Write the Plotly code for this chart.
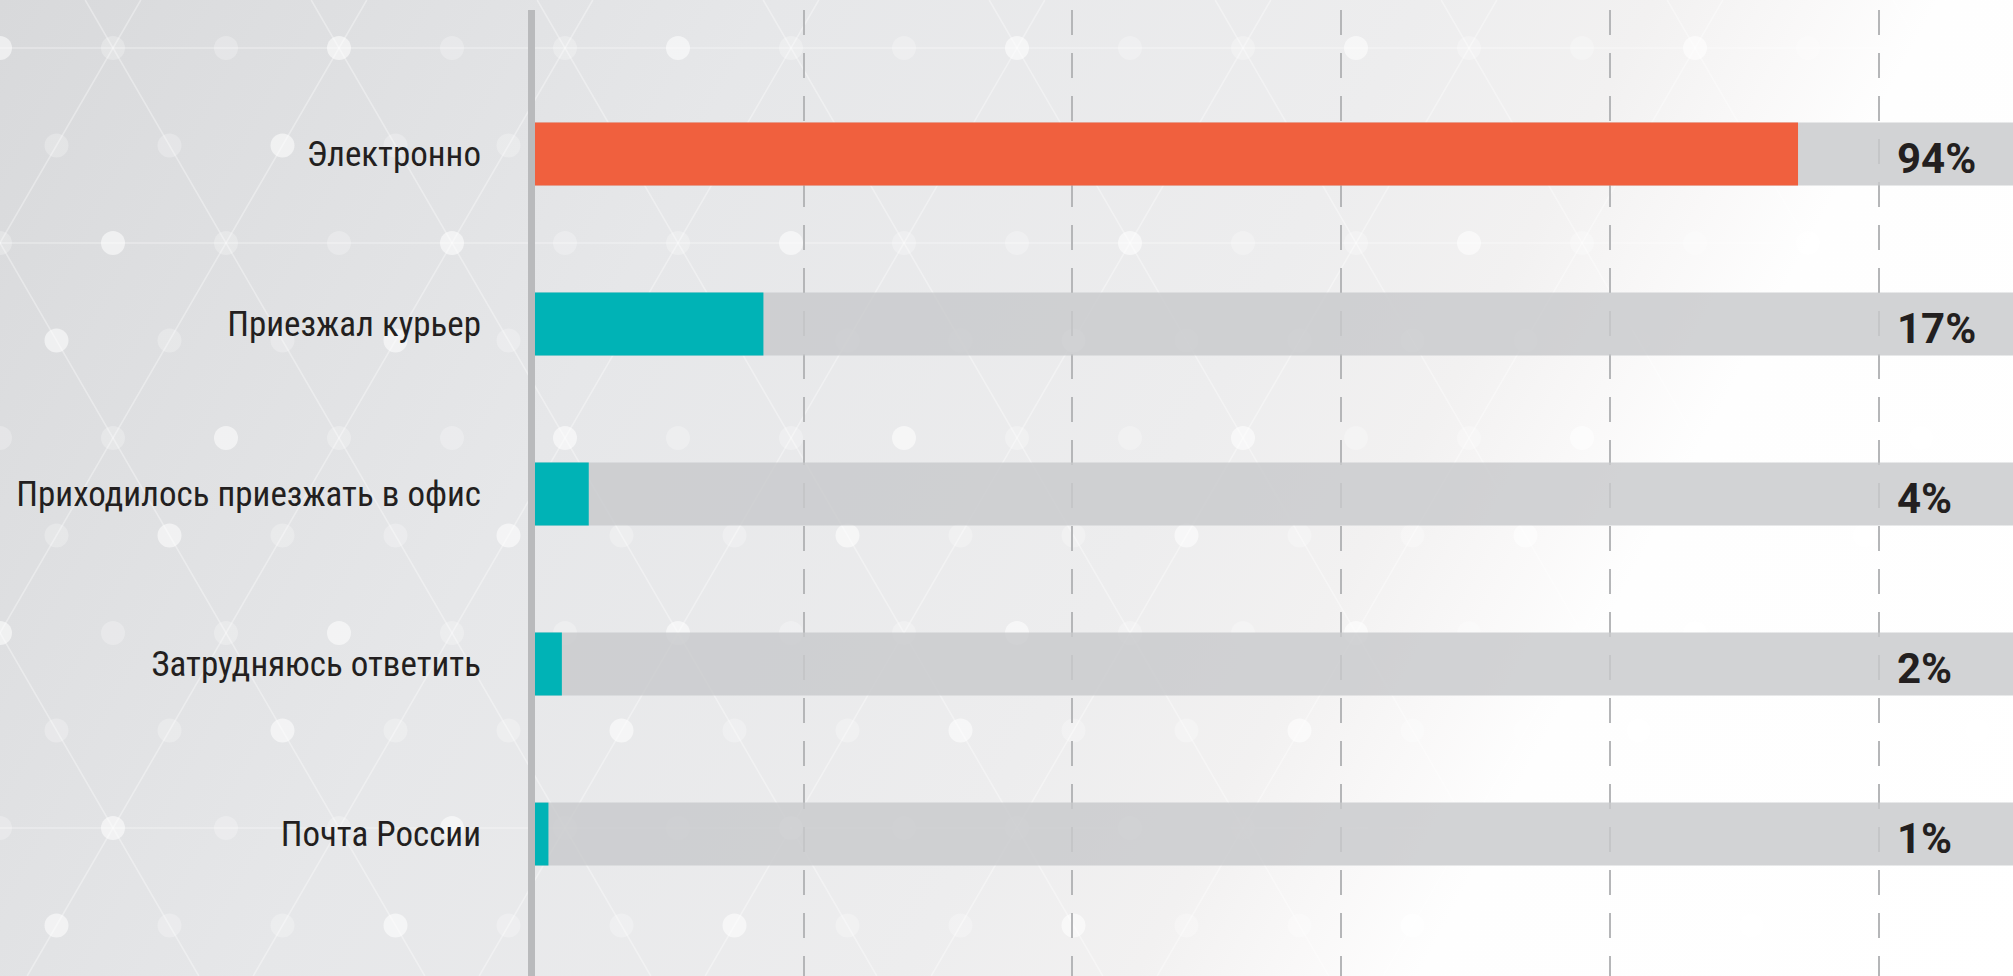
import base64
import plotly.graph_objects as go

# ---------------- data ----------------
categories = [
    "Электронно",
    "Приезжал курьер",
    "Приходилось приезжать в офис",
    "Затрудняюсь ответить",
    "Почта России",
]
values = [94, 17, 4, 2, 1]
value_labels = ["94%", "17%", "4%", "2%", "1%"]
grid_ticks = [20, 40, 60, 80, 100]
x_max = 110
bar_colors = ["#f0603e", "#00b3b6", "#00b3b6", "#00b3b6", "#00b3b6"]

W, H = 2013, 976
ML, MT = 535, 10


# ---------------- decorative background (svg) ----------------
def build_background():
    p = [f'<svg xmlns="http://www.w3.org/2000/svg" width="{W}" height="{H}" viewBox="0 0 {W} {H}">']
    p.append(
        '<defs><linearGradient id="g" gradientUnits="userSpaceOnUse" x1="0" y1="0" x2="2013" y2="1073">'
        '<stop offset="0" stop-color="#d8d9db"/>'
        '<stop offset="0.30" stop-color="#e6e7e9"/>'
        '<stop offset="0.55" stop-color="#ededee"/>'
        '<stop offset="0.64" stop-color="#f2f1f1"/>'
        '<stop offset="0.70" stop-color="#f9f8f8"/>'
        '<stop offset="0.75" stop-color="#fefefe"/>'
        '<stop offset="1" stop-color="#ffffff"/>'
        '</linearGradient></defs>'
    )
    p.append(f'<rect width="{W}" height="{H}" fill="url(#g)"/>')
    side, dy, y0 = 113.0, 97.5, 48.0
    k = 56.5 / 97.5
    lines = []
    for r in (0, 2, 8):
        y = y0 + r * dy
        lines.append((0, y, W, y))
    for m in range(-12, 14):
        c = 113 + m * 226
        lines.append((c + (0 - y0) * k, 0, c + (H - y0) * k, H))
        lines.append((c - (0 - y0) * k, 0, c - (H - y0) * k, H))
    for (x1, y1, x2, y2) in lines:
        p.append(f'<line x1="{x1:.1f}" y1="{y1:.1f}" x2="{x2:.1f}" y2="{y2:.1f}" '
                 f'stroke="#ffffff" stroke-opacity="0.35" stroke-width="1.6"/>')
    for r in range(0, 10):
        y = y0 + r * dy
        off = 56.5 if r % 2 else 0.0
        for i in range(-1, 20):
            x = i * side + off
            op = 0.55 if (i + r) % 3 == 0 else 0.25
            p.append(f'<circle cx="{x:.1f}" cy="{y:.1f}" r="12" fill="#ffffff" fill-opacity="{op}"/>')
    p.append('</svg>')
    svg = "".join(p)
    return "data:image/svg+xml;base64," + base64.b64encode(svg.encode("utf-8")).decode("ascii")


fig = go.Figure()

# grey tracks
fig.add_trace(go.Bar(
    y=categories,
    x=[x_max] * len(categories),
    orientation="h",
    marker=dict(color="rgba(200,201,204,0.82)", line=dict(width=0)),
    width=0.37,
    hoverinfo="skip",
    showlegend=False,
))

# value bars
fig.add_trace(go.Bar(
    y=categories,
    x=values,
    orientation="h",
    marker=dict(color=bar_colors, line=dict(width=0)),
    width=0.37,
    hoverinfo="skip",
    showlegend=False,
))

for cat, lab in zip(categories, value_labels):
    fig.add_annotation(
        x=101.2, y=cat, xref="x", yref="y",
        text=f"<b>{lab}</b>", showarrow=False,
        xanchor="left", yanchor="middle", yshift=-4,
        font=dict(family="Roboto, Liberation Sans, sans-serif", size=42, color="#231f20"),
    )

plot_w = W - ML
plot_h = H - MT

fig.add_layout_image(
    source=build_background(),
    xref="paper", yref="paper",
    x=-ML / plot_w, y=1 + MT / plot_h,
    sizex=W / plot_w, sizey=H / plot_h,
    xanchor="left", yanchor="top",
    sizing="stretch", layer="below",
)

fig.update_layout(
    width=W, height=H,
    margin=dict(l=ML, r=0, t=MT, b=0, pad=0),
    barmode="overlay",
    paper_bgcolor="#ffffff",
    plot_bgcolor="rgba(0,0,0,0)",
    showlegend=False,
    xaxis=dict(
        range=[0, x_max],
        tickvals=grid_ticks,
        showticklabels=False,
        showgrid=True,
        gridcolor="#b5b6b8",
        gridwidth=2,
        griddash="25px,18px",
        zeroline=False,
        showline=False,
        ticks="",
        fixedrange=True,
    ),
    yaxis=dict(
        range=[4.835, -0.847],
        showgrid=False,
        zeroline=False,
        showline=True,
        linecolor="#b9babc",
        linewidth=7,
        ticks="",
        ticklabelstandoff=40,
        tickfont=dict(family="Liberation Sans Narrow, Roboto Condensed, DejaVu Sans Condensed, sans-serif",
                      size=35, color="#231f20"),
        fixedrange=True,
    ),
)

fig.write_html("out.html", config={"displayModeBar": False},
               post_script="document.body.style.margin='0';")
